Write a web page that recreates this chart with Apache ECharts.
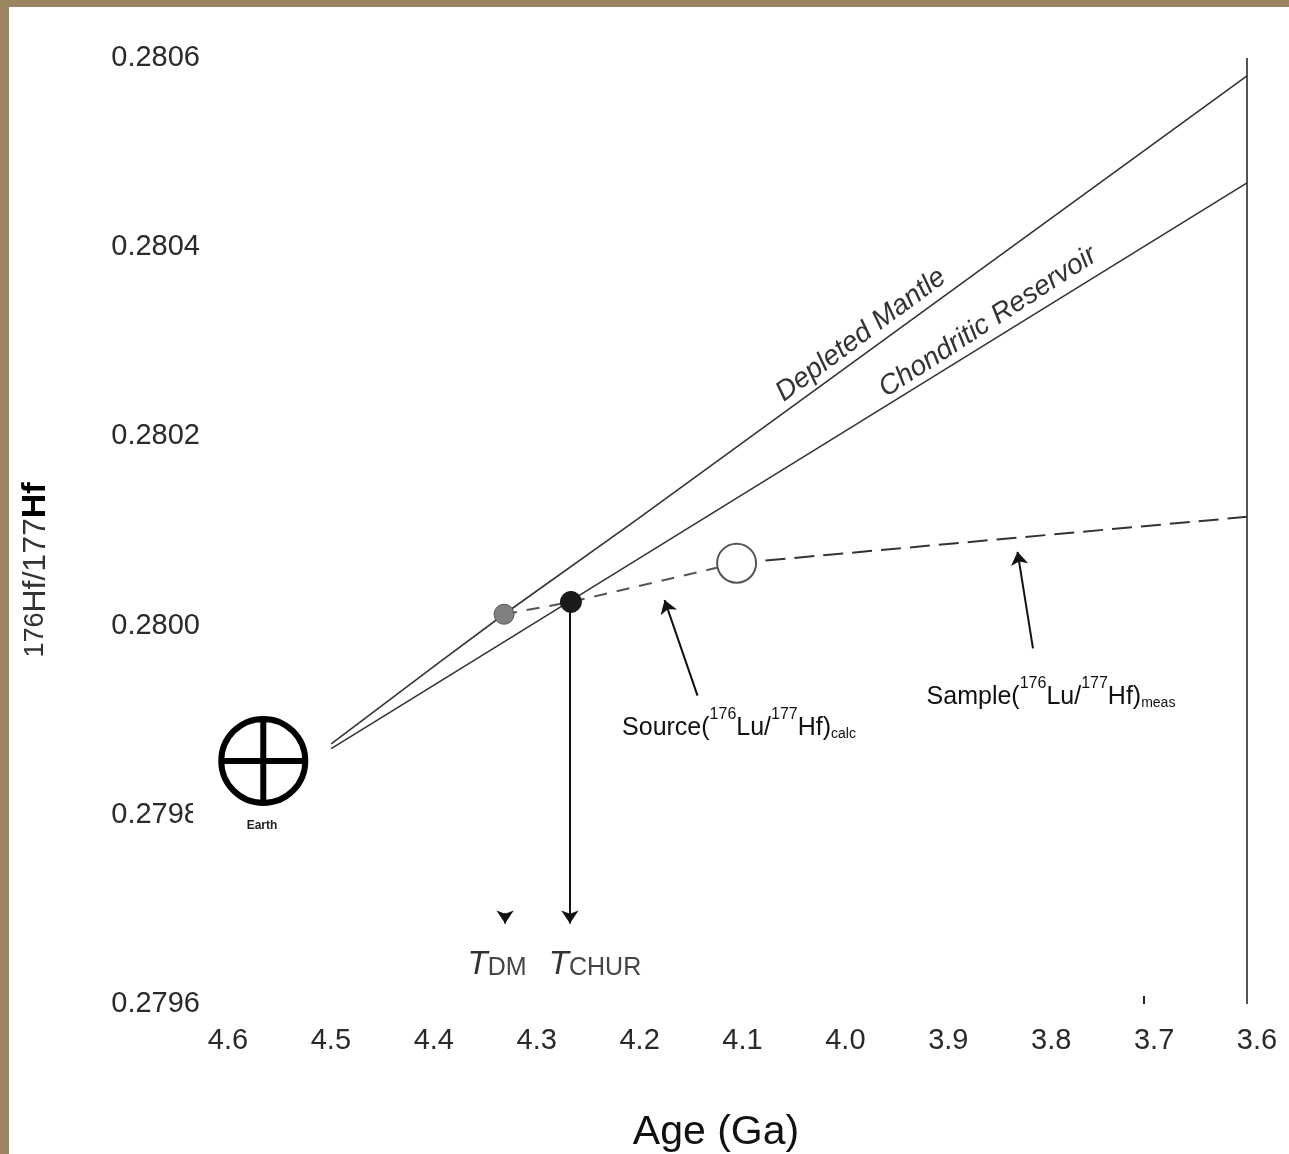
<!DOCTYPE html>
<html>
<head>
<meta charset="utf-8">
<style>html,body{margin:0;padding:0;background:#9a8560}#c{width:1289px;height:1154px}</style>
<script src="https://cdn.jsdelivr.net/npm/echarts@6/dist/echarts.min.js"></script>
</head>
<body>
<div id="c"></div>
<script>
var xTicks = [4.6, 4.5, 4.4, 4.3, 4.2, 4.1, 4.0, 3.9, 3.8, 3.7, 3.6];
var yTicks = [0.2796, 0.2798, 0.2800, 0.2802, 0.2804, 0.2806];
var depletedMantle = [[4.490, 0.279875], [4.384, 0.279962], [4.322, 0.280012], [4.193, 0.280112], [3.6, 0.280581]];
var chondriticReservoir = [[4.490, 0.279870], [3.6, 0.280468]];
var sourceEvolution = [[4.322, 0.280012], [4.257, 0.280025], [4.096, 0.280066]];
var sampleEvolution = [[4.096, 0.280066], [3.6, 0.280115]];
var presentDay = [[3.6, 0.2806], [3.6, 0.2796]];
var pointDM = [[4.322, 0.280012]];
var pointCHUR = [[4.257, 0.280025]];
var pointSample = [[4.096, 0.280066]];
var pointEarth = [[4.556, 0.279857]];
var arrows = [
  [[4.258, 0.280014], [4.258, 0.279685]],
  [[4.321, 0.279696], [4.321, 0.279685]],
  [[4.134, 0.279926], [4.166, 0.280027]],
  [[3.808, 0.279976], [3.823, 0.280078]]
];
var FONT = '"Liberation Sans", Arial, sans-serif';
var TXT = '#2a2a2a';
var earthPath = 'path://M-50 0a50 50 0 1 0 100 0a50 50 0 1 0 -100 0M-50 0L50 0M0 -50L0 50';

var richLabel = {
  m: {fontSize: 25, fontFamily: FONT, fill: '#111', lineHeight: 34, verticalAlign: 'bottom'},
  sup: {fontSize: 16, fontFamily: FONT, fill: '#111', lineHeight: 34, verticalAlign: 'top', padding: [0, 0, 8, 0]},
  sub: {fontSize: 14, fontFamily: FONT, fill: '#111', lineHeight: 34, verticalAlign: 'bottom', padding: [10, 0, 0, 0]}
};
function T(x, y, text, fs, rot, extra) {
  return {type: 'text', x: x, y: y, rotation: (rot || 0) * Math.PI / 180, z: 20,
    style: Object.assign({text: text, fontSize: fs, fontFamily: FONT, fill: TXT, align: 'center', verticalAlign: 'middle'}, extra || {})};
}
var chart = echarts.init(document.getElementById('c'), null, {renderer: 'canvas'});
chart.setOption({
  animation: false,
  backgroundColor: '#9a8560',
  grid: {left: 218, right: 42, top: 58, bottom: 150, containLabel: false},
  xAxis: {
    type: 'value', inverse: true, min: 3.6, max: 4.6, interval: 0.1,
    splitLine: {show: false},
    axisLine: {show: false},
    axisTick: {show: true, inside: true, length: 8, customValues: [3.7, 3.6], lineStyle: {color: '#222', width: 2}},
    axisLabel: {
      color: TXT, fontSize: 29, fontFamily: FONT, margin: 22, padding: [0, 0, 0, 20],
      showMinLabel: true, showMaxLabel: true, hideOverlap: false,
      formatter: function (v) { return v.toFixed(1); }
    }
  },
  yAxis: {
    type: 'value', min: 0.2796, max: 0.2806, interval: 0.0002,
    splitLine: {show: false},
    axisLine: {show: false},
    axisTick: {show: false},
    axisLabel: {
      color: TXT, fontSize: 29, fontFamily: FONT, margin: 18,
      showMinLabel: true, showMaxLabel: true,
      formatter: function (v) { return v.toFixed(4); }
    }
  },
  graphic: [
    {type: 'rect', z: -10, shape: {x: 9, y: 7, width: 1280, height: 1147}, style: {fill: '#ffffff'}},
    {type: 'rect', z: 10, shape: {x: 193, y: 795, width: 22, height: 40}, style: {fill: '#ffffff'}},
    T(262, 826, 'Earth', 12, 0, {fontWeight: 'bold', fill: '#222'}),
    {type: 'rect', z: 21, shape: {x: 240, y: 830, width: 44, height: 8}, style: {fill: '#ffffff'}},
    T(716, 1133, 'Age (Ga)', 41, 0, {fill: '#111'}),
    T(36, 570, '{a|176}{b|Hf/177}{c|Hf}', 32, 90, {rich: {
      a: {fontSize: 27, fontFamily: FONT, fill: '#333'},
      b: {fontSize: 32, fontFamily: FONT, fill: '#333'},
      c: {fontSize: 34, fontFamily: FONT, fill: '#000', fontWeight: 'bold'}
    }}),
    T(861, 335, 'Depleted Mantle', 28, 36.6, {fontStyle: 'italic', fill: '#333'}),
    T(988, 322, 'Chondritic Reservoir', 28, 33, {fontStyle: 'italic', fill: '#333'}),
    T(739, 724, '{m|Source(}{sup|176}{m|Lu/}{sup|177}{m|Hf)}{sub|calc}', 25, 0, {rich: richLabel}),
    T(1051, 693, '{m|Sample(}{sup|176}{m|Lu/}{sup|177}{m|Hf)}{sub|meas}', 25, 0, {rich: richLabel}),
    T(497, 961, '{t|T}{s|DM}', 30, 0, {rich: {
      t: {fontSize: 33, fontStyle: 'italic', fontFamily: FONT, fill: '#333', lineHeight: 40, verticalAlign: 'bottom'},
      s: {fontSize: 25, fontFamily: FONT, fill: '#444', lineHeight: 40, verticalAlign: 'bottom', padding: [8, 0, 0, 0]}
    }}),
    T(595, 961, '{t|T}{s|CHUR}', 30, 0, {rich: {
      t: {fontSize: 33, fontStyle: 'italic', fontFamily: FONT, fill: '#333', lineHeight: 40, verticalAlign: 'bottom'},
      s: {fontSize: 25, fontFamily: FONT, fill: '#444', lineHeight: 40, verticalAlign: 'bottom', padding: [8, 0, 0, 0]}
    }})
  ],
  series: [
    {name: 'Present day', type: 'line', data: presentDay, symbol: 'none', lineStyle: {color: '#555', width: 2}, z: 2},
    {name: 'Depleted Mantle', type: 'line', data: depletedMantle, symbol: 'none', lineStyle: {color: '#333', width: 1.6}, z: 2},
    {name: 'Chondritic Reservoir', type: 'line', data: chondriticReservoir, symbol: 'none', lineStyle: {color: '#333', width: 1.6}, z: 2},
    {name: 'Source', type: 'line', data: sourceEvolution, symbol: 'none', lineStyle: {color: '#555', width: 2, type: [13, 10]}, z: 2},
    {name: 'Sample', type: 'line', data: sampleEvolution, symbol: 'none', lineStyle: {color: '#333', width: 2, type: [20, 9]}, z: 2},
    {name: 'TDM point', type: 'scatter', data: pointDM, symbolSize: 20, itemStyle: {color: '#808080', borderColor: '#555', borderWidth: 1, opacity: 1}, z: 5},
    {name: 'TCHUR point', type: 'scatter', data: pointCHUR, symbolSize: 21, itemStyle: {color: '#1a1a1a', borderColor: '#111', borderWidth: 1, opacity: 1}, z: 5},
    {name: 'Sample point', type: 'scatter', data: pointSample, symbolSize: 39, itemStyle: {color: '#fff', borderColor: '#555', borderWidth: 2, opacity: 1}, z: 5},
    {name: 'Earth', type: 'scatter', data: pointEarth, symbol: earthPath, symbolSize: 84, clip: false,
      itemStyle: {color: 'transparent', borderColor: '#000', borderWidth: 6, opacity: 1}, z: 5},
    {name: 'Arrows', type: 'line', data: [], symbol: 'none', z: 4,
      markLine: {
        silent: true, animation: false, symbol: ['none', 'arrow'], symbolSize: 13,
        label: {show: false},
        lineStyle: {color: '#111', width: 2, type: 'solid'},
        data: arrows.map(function (a) { return [{coord: a[0]}, {coord: a[1]}]; })
      }}
  ]
});
</script>
</body>
</html>
